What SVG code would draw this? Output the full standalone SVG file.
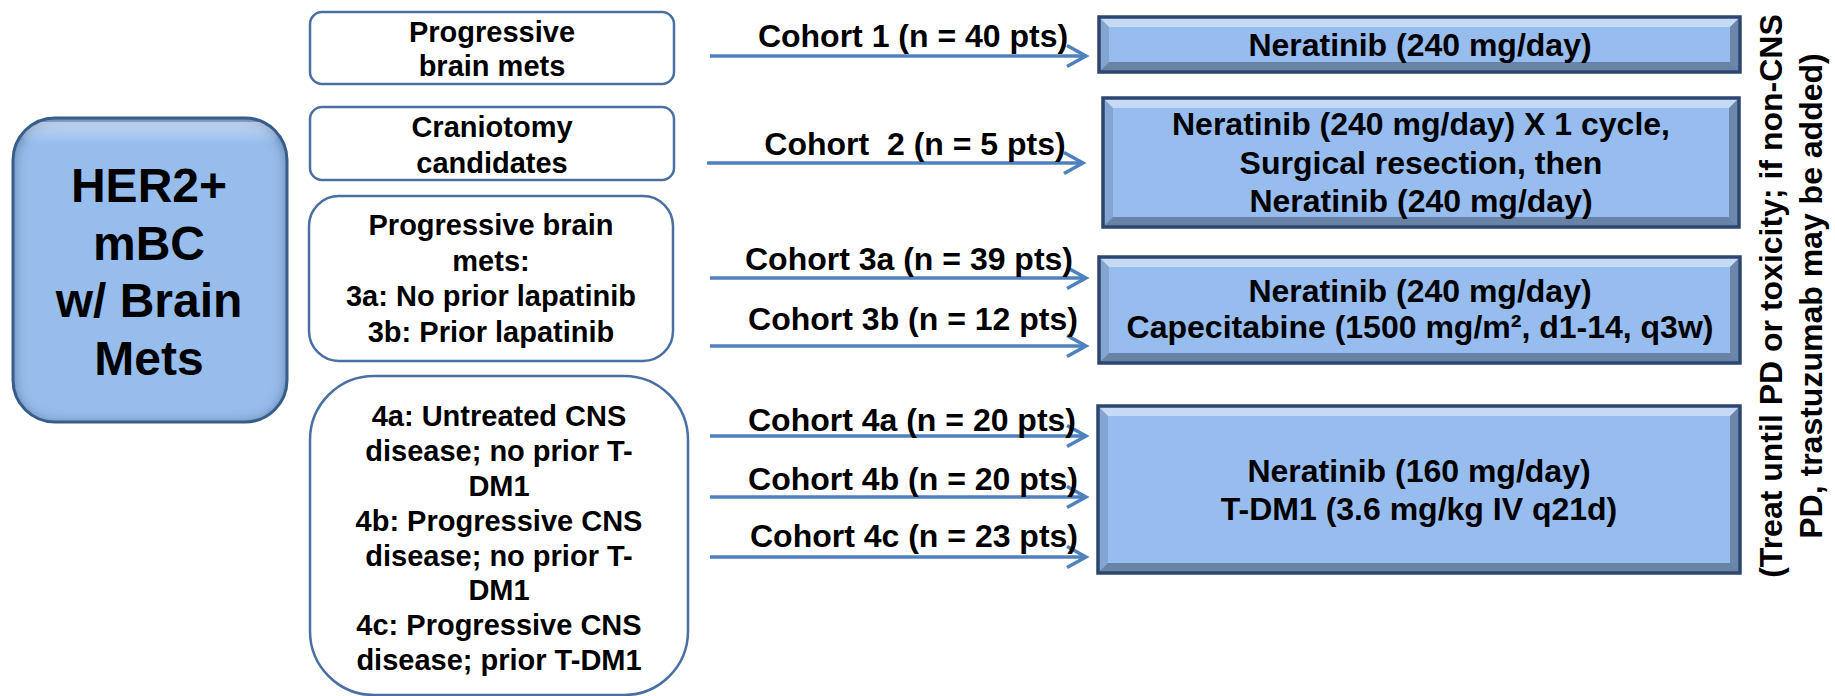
<svg xmlns="http://www.w3.org/2000/svg" width="1835" height="696" viewBox="0 0 1835 696">
<style>
text{font-family:"Liberation Sans",Arial,sans-serif;font-weight:bold;fill:#000;text-anchor:middle}
.src{fill:#fff;stroke:#4A6FA3;stroke-width:2.5}
.lt{font-size:29px}
.lbl{font-size:32px}
.rt{font-size:32px}
.big{font-size:48px}
.arr{stroke:#4F81BD;stroke-width:3.5;fill:none;marker-end:url(#ah)}
.tx{fill:#97BCEE}
.hl{fill:#fff;fill-opacity:0.45}
.lf{fill:#000;fill-opacity:0.12}
.sh{fill:#000;fill-opacity:0.28}
.sh2{fill:#000;fill-opacity:0.3}
.bd{fill:none;stroke:#2C4670;stroke-width:3.5}
</style>
<defs>
<marker id="ah" markerUnits="userSpaceOnUse" markerWidth="26" markerHeight="28" refX="21" refY="12" orient="auto">
<path d="M2,1.5 L21,12 L2,22.5" fill="none" stroke="#4F81BD" stroke-width="3.5"/>
</marker>
<filter id="inner" x="-5%" y="-5%" width="110%" height="110%">
<feFlood flood-color="#1B3359" flood-opacity="0.85"/>
<feComposite in2="SourceAlpha" operator="out"/>
<feGaussianBlur stdDeviation="7"/>
<feOffset dx="0" dy="2"/>
<feComposite in2="SourceAlpha" operator="in" result="shadow"/>
<feMerge><feMergeNode in="SourceGraphic"/><feMergeNode in="shadow"/></feMerge>
</filter>
<linearGradient id="topHl" x1="0" y1="0" x2="0" y2="1">
<stop offset="0" stop-color="#fff" stop-opacity="0.45"/>
<stop offset="1" stop-color="#fff" stop-opacity="0"/>
</linearGradient>
</defs>

<g id="her2">
<rect x="13" y="118" width="274" height="304" rx="42" fill="#97BDED" filter="url(#inner)"/>
<rect x="22" y="122" width="256" height="22" rx="11" fill="url(#topHl)"/>
<rect x="13" y="118" width="274" height="304" rx="42" fill="none" stroke="#385D8A" stroke-width="3"/>
<text class="big"><tspan x="149" y="202">HER2+</tspan><tspan x="149" y="260">mBC</tspan><tspan x="149" y="317">w/ Brain</tspan><tspan x="149" y="375">Mets</tspan></text>
</g>

<g id="src1">
<rect class="src" x="310" y="12" width="364" height="72" rx="12"/>
<text class="lt"><tspan x="492" y="42">Progressive</tspan><tspan x="492" y="76">brain mets</tspan></text>
</g>
<g id="src2">
<rect class="src" x="310" y="107" width="364" height="73" rx="12"/>
<text class="lt"><tspan x="492" y="137">Craniotomy</tspan><tspan x="492" y="173">candidates</tspan></text>
</g>
<g id="src3">
<rect class="src" x="309" y="196" width="364" height="165" rx="30"/>
<text class="lt"><tspan x="491" y="235">Progressive brain</tspan><tspan x="491" y="271">mets:</tspan><tspan x="491" y="306">3a: No prior lapatinib</tspan><tspan x="491" y="342">3b: Prior lapatinib</tspan></text>
</g>
<g id="src4">
<rect class="src" x="310" y="376" width="378" height="319" rx="64"/>
<text class="lt"><tspan x="499" y="426">4a: Untreated CNS</tspan><tspan x="499" y="461">disease; no prior T-</tspan><tspan x="499" y="496">DM1</tspan><tspan x="499" y="531">4b: Progressive CNS</tspan><tspan x="499" y="566">disease; no prior T-</tspan><tspan x="499" y="600">DM1</tspan><tspan x="499" y="635">4c: Progressive CNS</tspan><tspan x="499" y="670">disease; prior T-DM1</tspan></text>
</g>

<g id="connectors">
<line class="arr" x1="710" y1="56" x2="1086" y2="56"/>
<line class="arr" x1="707" y1="163" x2="1083" y2="163"/>
<line class="arr" x1="710" y1="278" x2="1086" y2="278"/>
<line class="arr" x1="710" y1="346" x2="1086" y2="346"/>
<line class="arr" x1="710" y1="436" x2="1086" y2="436"/>
<line class="arr" x1="710" y1="497" x2="1086" y2="497"/>
<line class="arr" x1="710" y1="557" x2="1086" y2="557"/>
<text class="lbl" x="913" y="47">Cohort 1 (n = 40 pts)</text>
<text class="lbl" x="915" y="155" xml:space="preserve">Cohort  2 (n = 5 pts)</text>
<text class="lbl" x="909" y="270">Cohort 3a (n = 39 pts)</text>
<text class="lbl" x="913" y="330">Cohort 3b (n = 12 pts)</text>
<text class="lbl" x="912" y="431">Cohort 4a (n = 20 pts)</text>
<text class="lbl" x="913" y="490">Cohort 4b (n = 20 pts)</text>
<text class="lbl" x="914" y="547">Cohort 4c (n = 23 pts)</text>
</g>

<g id="tx1">
<rect class="tx" x="1099" y="17" width="641" height="55"/>
<polygon class="hl" points="1099,17 1740,17 1730,27 1109,27"/>
<polygon class="lf" points="1099,17 1109,27 1109,62 1099,72"/>
<polygon class="sh" points="1740,17 1740,72 1730,62 1730,27"/>
<polygon class="sh2" points="1099,72 1740,72 1730,62 1109,62"/>
<rect class="bd" x="1099" y="17" width="641" height="55"/>
<text class="rt" x="1420" y="56">Neratinib (240 mg/day)</text>
</g>
<g id="tx2">
<rect class="tx" x="1103" y="98" width="636" height="129"/>
<polygon class="hl" points="1103,98 1739,98 1729,108 1113,108"/>
<polygon class="lf" points="1103,98 1113,108 1113,217 1103,227"/>
<polygon class="sh" points="1739,98 1739,227 1729,217 1729,108"/>
<polygon class="sh2" points="1103,227 1739,227 1729,217 1113,217"/>
<rect class="bd" x="1103" y="98" width="636" height="129"/>
<text class="rt"><tspan x="1421" y="135">Neratinib (240 mg/day) X 1 cycle,</tspan><tspan x="1421" y="174">Surgical resection, then</tspan><tspan x="1421" y="212">Neratinib (240 mg/day)</tspan></text>
</g>
<g id="tx3">
<rect class="tx" x="1099" y="257" width="641" height="106"/>
<polygon class="hl" points="1099,257 1740,257 1730,267 1109,267"/>
<polygon class="lf" points="1099,257 1109,267 1109,353 1099,363"/>
<polygon class="sh" points="1740,257 1740,363 1730,353 1730,267"/>
<polygon class="sh2" points="1099,363 1740,363 1730,353 1109,353"/>
<rect class="bd" x="1099" y="257" width="641" height="106"/>
<text class="rt"><tspan x="1420" y="302">Neratinib (240 mg/day)</tspan><tspan x="1420" y="338">Capecitabine (1500 mg/m², d1-14, q3w)</tspan></text>
</g>
<g id="tx4">
<rect class="tx" x="1098" y="406" width="642" height="167"/>
<polygon class="hl" points="1098,406 1740,406 1730,416 1108,416"/>
<polygon class="lf" points="1098,406 1108,416 1108,563 1098,573"/>
<polygon class="sh" points="1740,406 1740,573 1730,563 1730,416"/>
<polygon class="sh2" points="1098,573 1740,573 1730,563 1108,563"/>
<rect class="bd" x="1098" y="406" width="642" height="167"/>
<text class="rt"><tspan x="1419" y="482">Neratinib (160 mg/day)</tspan><tspan x="1419" y="520">T-DM1 (3.6 mg/kg IV q21d)</tspan></text>
</g>

<g id="note">
<text class="rt" transform="translate(1782 296) rotate(-90)"><tspan x="0" y="0">(Treat until PD or toxicity; if non-CNS</tspan><tspan x="0" y="40">PD, trastuzumab may be added)</tspan></text>
</g>
</svg>
